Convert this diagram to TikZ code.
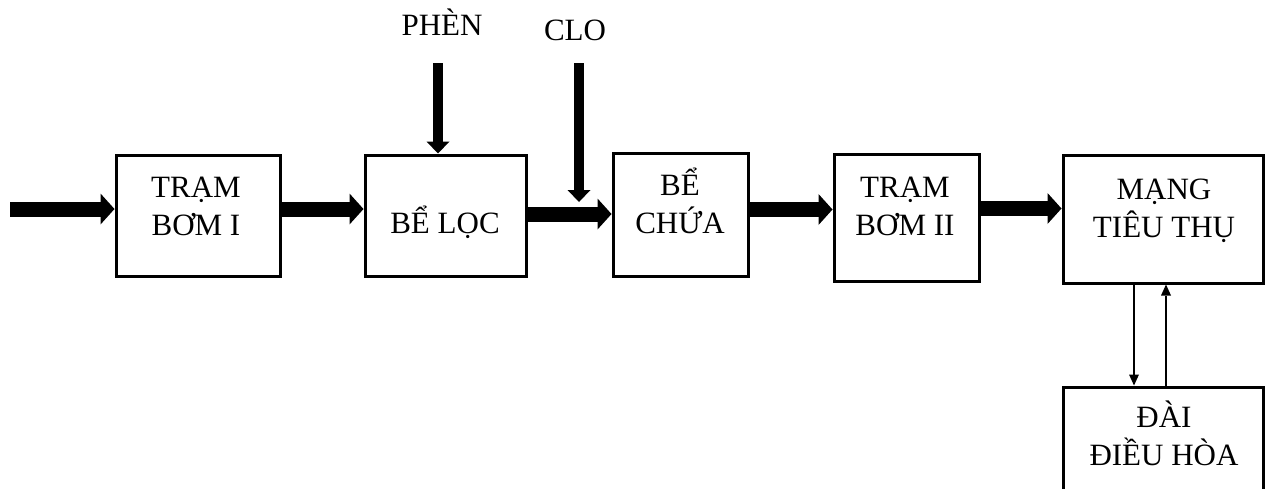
\documentclass[tikz,border=0pt]{standalone}
\usepackage{fontspec}
\setmainfont{Liberation Serif}
\usetikzlibrary{arrows.meta}
\begin{document}
\begin{tikzpicture}[x=1pt,y=-1pt,
  box/.style={draw, line width=3pt, inner sep=0pt},
  lbl/.style={font=\fontsize{31}{38}\selectfont, align=center, anchor=base, inner sep=0pt},
  pipe/.style={line width=15pt, -{Triangle[width=31pt,length=14pt,line width'=0pt]}},
  dose/.style={line width=10.5pt, -{Triangle[width=23pt,length=12pt,line width'=0pt]}},
  link/.style={line width=2.4pt, -{Triangle[width=10pt,length=11pt,line width'=0pt]}},
]
\useasboundingbox (0,0) rectangle (1267,488);

% process units
\node[box, minimum width=164pt, minimum height=121pt] (b1) at (198,215.5) {};
\node[box, minimum width=161pt, minimum height=121pt] (b2) at (445.5,215.5) {};
\node[box, minimum width=135pt, minimum height=123pt] (b3) at (680.5,214.5) {};
\node[box, minimum width=145pt, minimum height=127pt] (b4) at (906.5,217.5) {};
\node[box, minimum width=200pt, minimum height=128pt] (b5) at (1163,219) {};
\begin{scope}
  \clip (0,0) rectangle (1267,488);
  \node[box, minimum width=200pt, minimum height=130pt] (b6) at (1163,452) {};
\end{scope}

% labels (two-line labels sit on the baseline of their last line)
\node[lbl] (t1) at (196,235) {TRẠM\\BƠM I};
\node[lbl] (t2) at (445,233) {BỂ LỌC};
\node[lbl] (t3) at (680,233) {BỂ\\CHỨA};
\node[lbl] (t4) at (905,235) {TRẠM\\BƠM II};
\node[lbl] (t5) at (1164,237) {MẠNG\\TIÊU THỤ};
\node[lbl] (t6) at (1164,465) {ĐÀI\\ĐIỀU HÒA};
\node[lbl] (ph) at (442,35) {PHÈN};
\node[lbl] (cl) at (575,40) {CLO};

% main water line
\coordinate (src) at (10,209);
\draw[pipe] (src) -- (src -| b1.west);
\draw[pipe] (b1.east |- 0,209) -- (b2.west |- 0,209);
\draw[pipe] (b2.east |- 0,214) -- (b3.west |- 0,214);
\draw[pipe] (b3.east |- 0,209.5) -- (b4.west |- 0,209.5);
\draw[pipe] (b4.east |- 0,208.5) -- (b5.west |- 0,208.5);

% chemical dosing
\coordinate (phtop) at (438,63);
\draw[dose] (phtop) -- (phtop |- b2.north);
\coordinate (cltop) at (579,63);
\coordinate (clend) at (579,202);
\draw[dose] (cltop) -- (clend);

% network <-> tower
\draw[link] (b5.south -| 1134,0) -- (b6.north -| 1134,0);
\draw[link] (b6.north -| 1166,0) -- (b5.south -| 1166,0);
\end{tikzpicture}
\end{document}
